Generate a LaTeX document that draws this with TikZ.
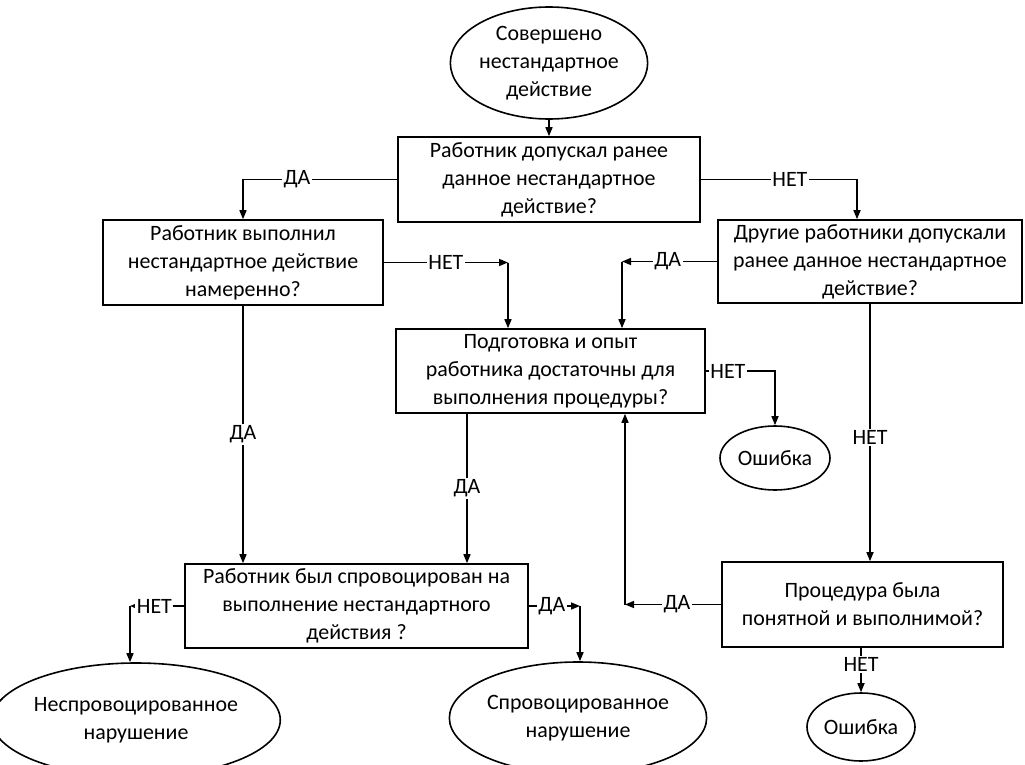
\documentclass[tikz,border=0pt]{standalone}
\usepackage{fontspec}
\setmainfont{Carlito}
\usetikzlibrary{shapes.geometric,arrows.meta,calc}
\begin{document}
\begin{tikzpicture}[x=1bp,y=-1bp,
  every node/.style={font=\fontsize{22}{28}\selectfont},
  box/.style={draw, line width=1.6bp, rectangle, align=center, inner sep=0pt},
  oval/.style={draw, line width=1.6bp, ellipse, align=center, inner sep=0pt},
  conn/.style={line width=1.5bp},
  arr/.style={conn, -{Triangle[length=9bp,width=7bp]}},
  lab/.style={fill=white, inner sep=1.5bp}]
\useasboundingbox (0,0) rectangle (1025,765);

% nodes
\node[oval, minimum width=196bp, minimum height=112bp] (e0) at (549,63) {Совершено\\нестандартное\\действие};
\node[box, minimum width=302bp, minimum height=85bp] (b1) at (549,179.5) {Работник допускал ранее\\данное нестандартное\\действие?};
\node[box, minimum width=280bp, minimum height=85bp] (b2) at (243,262.5) {Работник выполнил\\нестандартное действие\\намеренно?};
\node[box, minimum width=304bp, minimum height=83bp] (b4) at (870,261.5) {Другие работники допускали\\ранее данное нестандартное\\действие?};
\node[box, minimum width=309bp, minimum height=84bp] (b3) at (550.5,371) {Подготовка и опыт\\работника достаточны для\\выполнения процедуры?};
\node[oval, minimum width=110bp, minimum height=64bp] (e1) at (775,458) {Ошибка};
\node[box, minimum width=343bp, minimum height=84bp] (b5) at (356.5,606) {Работник был спровоцирован на\\выполнение нестандартного\\действия ?};
\node[box, minimum width=281bp, minimum height=85bp] (b6) at (862.5,604.5) {Процедура была\\понятной и выполнимой?};
\node[oval, minimum width=108bp, minimum height=68bp] (e2) at (861,727) {Ошибка};
\node[oval, minimum width=254bp, minimum height=114bp] (eL) at (136,720) {Неспровоцированное\\нарушение};
\node[oval, minimum width=226bp, minimum height=112bp] (eR) at (578,718) {Спровоцированное\\нарушение};

% helper coordinates
\coordinate (k1) at (857,179.5);
\coordinate (k2) at (508,262.5);
\coordinate (k3) at (622,261.5);
\coordinate (k4) at (467,0);
\coordinate (k5) at (625,604.5);
\coordinate (k6) at (130,606);
\coordinate (k7) at (580,606);

% connectors
\draw[arr] (e0.south) -- (b1.north);
\draw[arr] (b1.west) -- node[lab,pos=0.65]{ДА} (b1.west -| b2.north) -- (b2.north);
\draw[arr] (b1.east) -- node[lab,pos=0.57]{НЕТ} (k1) -- (k1 |- b4.north);
\draw[arr] (b2.east) -- node[lab,pos=0.5]{НЕТ} (k2);
\draw[arr] (k2) -- (k2 |- b3.north);
\draw[arr] (b4.west) -- node[lab,pos=0.52]{ДА} (k3);
\draw[arr] (k3) -- (k3 |- b3.north);
\draw[arr] (b3.east) -- node[lab,pos=0.32]{НЕТ} (b3.east -| e1.north) -- (e1.north);
\draw[arr] (b2.south) -- node[lab]{ДА} (b2.south |- b5.north);
\draw[arr] (b3.south -| k4) -- node[lab]{ДА} (k4 |- b5.north);
\draw[arr] (b4.south) -- node[lab,pos=0.52]{НЕТ} (b4.south |- b6.north);
\draw[arr] (b6.west) -- node[lab,pos=0.46]{ДА} (k5);
\draw[arr] (k5) -- (k5 |- b3.south);
\draw[arr] (e2.north |- b6.south) -- node[lab,pos=0.38]{НЕТ} (e2.north);
\draw[arr] (b5.west) -- node[lab,pos=0.55]{НЕТ} (k6);
\draw[arr] (k6) -- (k6 |- eL.north);
\draw[arr] (b5.east) -- node[lab,pos=0.45]{ДА} (k7);
\draw[arr] (k7) -- (k7 |- eR.north);
\end{tikzpicture}
\end{document}
